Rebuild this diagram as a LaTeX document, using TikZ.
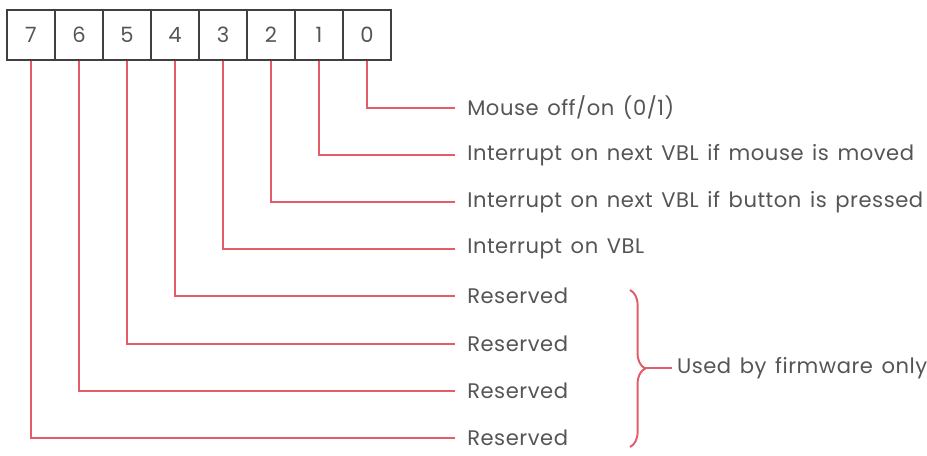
\documentclass[tikz,border=0pt]{standalone}
\usepackage{fontspec}
\setmainfont{Poppins}[LetterSpace=2.5, WordSpace=1.4]
\usepackage{tikz}
\usetikzlibrary{positioning, decorations.pathreplacing}
\usepackage{xcolor}
\definecolor{bitred}{RGB}{228,92,104}
\definecolor{txtgray}{RGB}{85,85,85}

\tikzset{
  bitcell/.style={draw=black!75, line width=1.2pt, minimum width=1.2cm, minimum height=1.25cm,
    inner sep=0pt, font=\fontsize{15}{18}\selectfont, text=txtgray},
  bitline/.style={draw=bitred, line width=1.4pt},
  bitlabel/.style={anchor=west, inner xsep=0.3cm, inner ysep=0pt, font=\fontsize{15}{18}\selectfont, text=txtgray}
}

\begin{document}
\begin{tikzpicture}[x=0.025cm, y=-0.025cm]
            \useasboundingbox (0,0) rectangle (927,455);

            \foreach \i in {0,...,7}
                \node[bitcell] (b\i) at ({31+48*(7-\i)},35) {\i};

            \node[bitlabel] (l0) at (455,108) {Mouse off/on (0/1)};
            \node[bitlabel] (l1) at (455,155) {Interrupt on next VBL if mouse is moved};
            \node[bitlabel] (l2) at (455,202) {Interrupt on next VBL if button is pressed};
            \node[bitlabel] (l3) at (455,249) {Interrupt on VBL};
            \node[bitlabel] (l4) at (455,296) {Reserved};
            \node[bitlabel] (l5) at (455,344) {Reserved};
            \node[bitlabel] (l6) at (455,391) {Reserved};
            \node[bitlabel] (l7) at (455,438) {Reserved};

            \foreach \i in {0,...,7}
                \draw[bitline] (b\i.south) |- (l\i.west);

            \draw[bitline, decorate, decoration={brace, amplitude=0.38cm}] (630,290) -- (630,447);
            \coordinate (tip) at (645,368);
            \node[bitlabel, inner xsep=0.12cm] (firm) at (672,368) {Used by firmware only};
            \draw[bitline] (tip) -- (firm.west);
        \end{tikzpicture}
\end{document}
